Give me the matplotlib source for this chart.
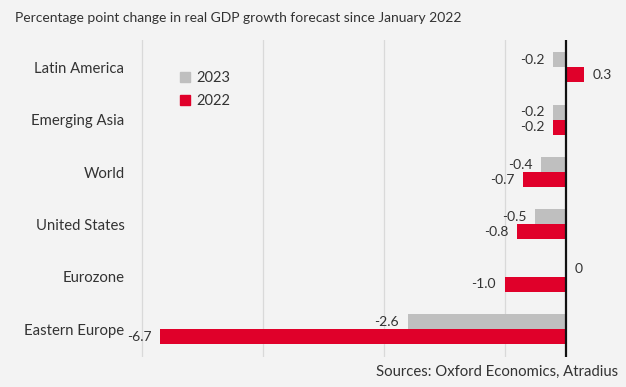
import numpy as np
import matplotlib.pyplot as plt
from matplotlib.patches import Patch

plt.rcParams['font.family'] = ['Lato', 'DejaVu Sans']

regions = ["Latin America", "Emerging Asia", "World", "United States", "Eurozone", "Eastern Europe"]
chg_2023 = [-0.2, -0.2, -0.4, -0.5, 0.0, -2.6]
chg_2022 = [0.3, -0.2, -0.7, -0.8, -1.0, -6.7]

bg = '#f3f3f3'
red = '#e0002a'
grey = '#bfbfbf'
txt = '#333333'

fig = plt.figure(figsize=(6.26, 3.87), dpi=100, facecolor=bg)
ax = fig.add_axes([130/626, 30/387, 490/626, 317/387], facecolor=bg)

y = np.arange(len(regions))
h = 0.286
ax.barh(y - h/2, chg_2023, height=h, color=grey, label='2023')
ax.barh(y + h/2, chg_2022, height=h, color=red, label='2022')

for vals, off in ((chg_2023, -h/2), (chg_2022, h/2)):
    for yi, v in zip(y, vals):
        if v < 0:
            ax.annotate(f"{v:.1f}", (v, yi + off), xytext=(-6.5, 0), textcoords='offset points',
                        ha='right', va='center', fontsize=10, color=txt)
        else:
            lab = "0" if v == 0 else f"{v:.1f}"
            ax.annotate(lab, (v, yi + off), xytext=(6.5, 0), textcoords='offset points',
                        ha='left', va='center', fontsize=10, color=txt)

ax.axvline(0, color='#111111', lw=1.6)
ax.set_xlim(-7.2, 0.9)
ax.set_ylim(5.53, -0.52)
ax.set_xticks([-7, -5, -3, -1])
ax.grid(axis='x', color='#d9d9d9', lw=0.9)
ax.set_axisbelow(True)
ax.tick_params(axis='x', length=0, labelbottom=False)
ax.tick_params(axis='y', length=0, pad=4, labelsize=10.7, labelcolor=txt)
ax.set_yticks(y)
ax.set_yticklabels(regions)
for s in ax.spines.values():
    s.set_visible(False)

handles = [Patch(color=grey, label='2023'), Patch(color=red, label='2022')]
ax.legend(handles=handles, loc='upper left', bbox_to_anchor=(167/626, 1 - 58/387),
          bbox_transform=fig.transFigure, frameon=False, fontsize=10.5,
          handlelength=0.7, handleheight=0.7, handletextpad=0.4, labelspacing=0.6,
          labelcolor=txt)

fig.text(15/626, 1 - 18/387, "Percentage point change in real GDP growth forecast since January 2022",
         ha='left', va='center', fontsize=10, color=txt)
fig.text(618/626, 1 - 372/387, "Sources: Oxford Economics, Atradius",
         ha='right', va='center', fontsize=10.7, color=txt)

fig.savefig('out.png', dpi=100, facecolor=bg)
